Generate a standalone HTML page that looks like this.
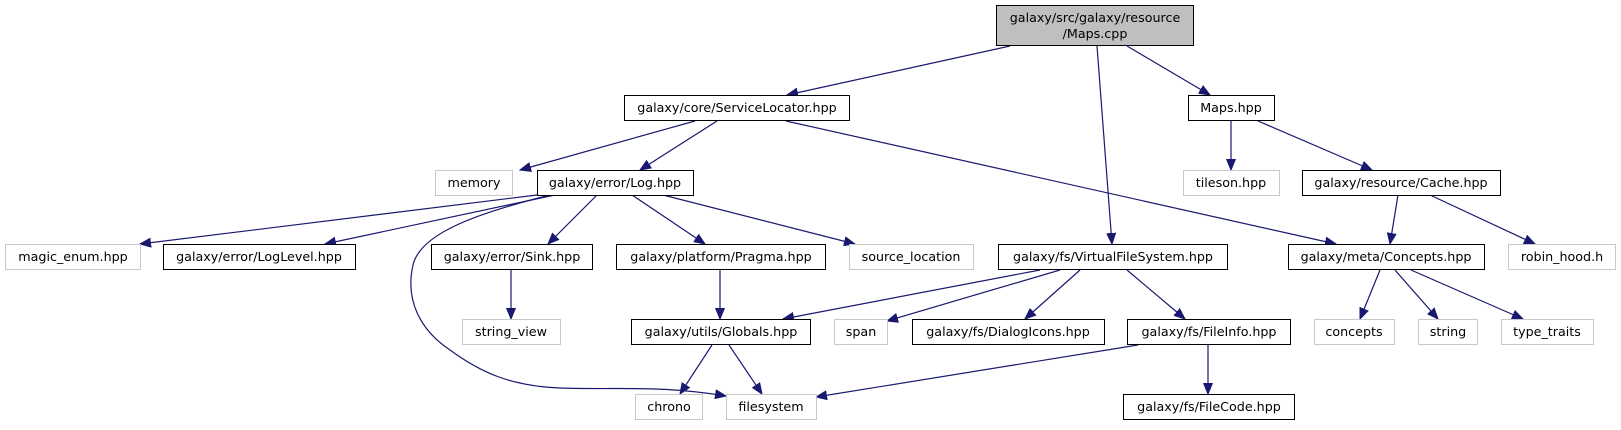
<!DOCTYPE html>
<html><head><meta charset="utf-8"><style>
html,body{margin:0;padding:0;background:#fff;}
svg text{font-family:"DejaVu Sans","Liberation Sans",sans-serif;font-size:12.7px;fill:#000;text-anchor:middle;}
</style></head><body>
<svg width="1621" height="425" viewBox="0 0 1621 425" xmlns="http://www.w3.org/2000/svg">
<defs>
<marker id="a" markerUnits="userSpaceOnUse" markerWidth="12" markerHeight="10" refX="11" refY="5" orient="auto">
<path d="M0,0.5 L11,5 L0,9.5 Z" fill="#191970" stroke="#191970"/>
</marker>
</defs>
<g stroke="#191970" stroke-width="1.2" fill="none" marker-end="url(#a)">
<line x1="1010" y1="46" x2="787" y2="95"/>
<line x1="1097" y1="46" x2="1112" y2="244"/>
<line x1="1127" y1="46" x2="1210" y2="95"/>
<line x1="695" y1="121" x2="520" y2="170"/>
<line x1="717" y1="121" x2="640" y2="170"/>
<line x1="786" y1="121" x2="1336" y2="244"/>
<line x1="1231" y1="121" x2="1231" y2="170"/>
<line x1="1258" y1="121" x2="1372" y2="170"/>
<line x1="537" y1="195" x2="140" y2="244"/>
<line x1="555" y1="195" x2="325" y2="244"/>
<path d="M550,195 C470,215 420,235 413,265 C405,300 420,330 450,350 C480,372 510,386 560,388 C620,390 660,385 726,396"/>
<line x1="597" y1="195" x2="548" y2="244"/>
<line x1="632" y1="195" x2="705" y2="244"/>
<line x1="663" y1="195" x2="855" y2="244"/>
<line x1="511" y1="270" x2="511" y2="319"/>
<line x1="720" y1="270" x2="720" y2="319"/>
<line x1="712" y1="345" x2="680" y2="394"/>
<line x1="729" y1="345" x2="762" y2="394"/>
<line x1="1040" y1="270" x2="783" y2="319"/>
<line x1="1060" y1="270" x2="887" y2="321"/>
<line x1="1080" y1="270" x2="1025" y2="319"/>
<line x1="1127" y1="270" x2="1185" y2="319"/>
<line x1="1138" y1="345" x2="816" y2="397"/>
<line x1="1208" y1="345" x2="1208" y2="394"/>
<line x1="1398" y1="195" x2="1390" y2="244"/>
<line x1="1430" y1="195" x2="1535" y2="244"/>
<line x1="1380" y1="270" x2="1360" y2="319"/>
<line x1="1395" y1="270" x2="1438" y2="319"/>
<line x1="1411" y1="270" x2="1523" y2="319"/>
</g>
<g stroke-width="1">
<rect x="996.5" y="5.5" width="197" height="40" fill="#bfbfbf" stroke="#000"/>
<g fill="#fff" stroke="#000">
<rect x="624.5" y="95.5" width="225" height="25"/>
<rect x="1188.5" y="95.5" width="86" height="25"/>
<rect x="537.5" y="170.5" width="156" height="25"/>
<rect x="1302.5" y="170.5" width="198" height="25"/>
<rect x="163.5" y="244.5" width="192" height="25"/>
<rect x="431.5" y="244.5" width="161" height="25"/>
<rect x="616.5" y="244.5" width="209" height="25"/>
<rect x="998.5" y="244.5" width="229" height="25"/>
<rect x="1288.5" y="244.5" width="196" height="25"/>
<rect x="631.5" y="319.5" width="179" height="25"/>
<rect x="912.5" y="319.5" width="192" height="25"/>
<rect x="1127.5" y="319.5" width="163" height="25"/>
<rect x="1123.5" y="394.5" width="171" height="25"/>
</g>
<g fill="#fff" stroke="#c8c8c8">
<rect x="435.5" y="170.5" width="77" height="25"/>
<rect x="1183.5" y="170.5" width="96" height="25"/>
<rect x="5.5" y="244.5" width="135" height="25"/>
<rect x="849.5" y="244.5" width="124" height="25"/>
<rect x="1508.5" y="244.5" width="107" height="25"/>
<rect x="462.5" y="319.5" width="98" height="25"/>
<rect x="834.5" y="319.5" width="53" height="25"/>
<rect x="1314.5" y="319.5" width="80" height="25"/>
<rect x="1418.5" y="319.5" width="59" height="25"/>
<rect x="1501.5" y="319.5" width="92" height="25"/>
<rect x="635.5" y="394.5" width="67" height="25"/>
<rect x="726.5" y="394.5" width="90" height="25"/>
</g>
</g>
<text x="1095" y="22">galaxy/src/galaxy/resource</text>
<text x="1095" y="38">/Maps.cpp</text>
<text x="737" y="112">galaxy/core/ServiceLocator.hpp</text>
<text x="1231" y="112">Maps.hpp</text>
<text x="474" y="187">memory</text>
<text x="615" y="187">galaxy/error/Log.hpp</text>
<text x="1231" y="187">tileson.hpp</text>
<text x="1401" y="187">galaxy/resource/Cache.hpp</text>
<text x="73" y="261">magic_enum.hpp</text>
<text x="259" y="261">galaxy/error/LogLevel.hpp</text>
<text x="512" y="261">galaxy/error/Sink.hpp</text>
<text x="721" y="261">galaxy/platform/Pragma.hpp</text>
<text x="911" y="261">source_location</text>
<text x="1113" y="261">galaxy/fs/VirtualFileSystem.hpp</text>
<text x="1386" y="261">galaxy/meta/Concepts.hpp</text>
<text x="1562" y="261">robin_hood.h</text>
<text x="511" y="336">string_view</text>
<text x="721" y="336">galaxy/utils/Globals.hpp</text>
<text x="861" y="336">span</text>
<text x="1008" y="336">galaxy/fs/DialogIcons.hpp</text>
<text x="1209" y="336">galaxy/fs/FileInfo.hpp</text>
<text x="1354" y="336">concepts</text>
<text x="1448" y="336">string</text>
<text x="1547" y="336">type_traits</text>
<text x="669" y="411">chrono</text>
<text x="771" y="411">filesystem</text>
<text x="1209" y="411">galaxy/fs/FileCode.hpp</text>
</svg>
</body></html>
